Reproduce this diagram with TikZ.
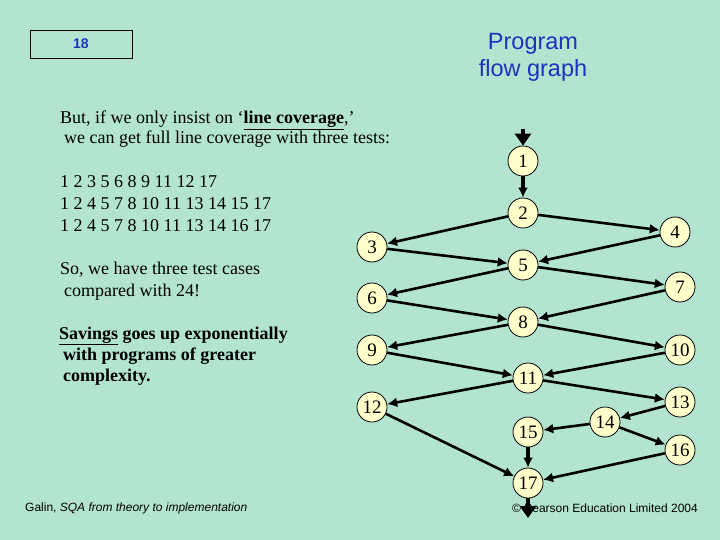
\documentclass[tikz,border=0pt]{standalone}
\usepackage{fontspec}
\setmainfont{Liberation Serif}
\setsansfont{Liberation Sans}
\usetikzlibrary{arrows.meta}
\definecolor{bg}{RGB}{179,228,208}
\definecolor{nodefill}{RGB}{255,255,204}
\definecolor{titleblue}{RGB}{30,50,190}
\begin{document}
\begin{tikzpicture}[x=1pt,y=-1pt,
 vtx/.style={circle,draw=black,line width=0.8pt,fill=nodefill,minimum size=30pt,inner sep=0pt,font=\fontsize{19}{19}\selectfont},
 edge/.style={line width=2.6pt,-{Latex[length=10pt,width=10pt]}},
 bigarrow/.style={line width=4pt,-{Triangle[length=12pt,width=16pt]}},
 txt/.style={anchor=base west,inner sep=0pt,font=\fontsize{18}{18}\selectfont},
 btxt/.style={txt,font=\fontsize{18}{18}\selectfont\bfseries},
 foot/.style={anchor=base west,inner sep=0pt,font=\sffamily\fontsize{12}{12}\selectfont}]

\fill[bg] (0,0) rectangle (720,540);
\useasboundingbox (0,0) rectangle (720,540);

% header
\node[draw=black,line width=0.8pt,minimum width=102pt,minimum height=28pt,
  font=\sffamily\bfseries\fontsize{14}{14}\selectfont,text=titleblue] (slide) at (81,44) {18};
\node[align=center,font=\sffamily\fontsize{23.5}{27}\selectfont,text=titleblue] (title) at (533,57) {Program\\flow graph};

% left texts
\node[txt] (t1) at (60,124) {But, if we only insist on `\textbf{\underline{line coverage}},'};
\node[txt] (t2) at (64,144) {we can get full line coverage with three tests:};
\node[txt] (p1) at (60,188) {1 2 3 5 6 8 9 11 12 17};
\node[txt] (p2) at (60,209.5) {1 2 4 5 7 8 10 11 13 14 15 17};
\node[txt] (p3) at (60,231) {1 2 4 5 7 8 10 11 13 14 16 17};
\node[txt] (s1) at (60,274) {So, we have three test cases};
\node[txt] (s2) at (64,296) {compared with 24!};
\node[btxt] (v1) at (59,339) {\underline{Savings} goes up exponentially};
\node[btxt] (v2) at (63,360) {with programs of greater};
\node[btxt] (v3) at (63,381) {complexity.};

% footer
\node[foot] (f1) at (25,511) {Galin, \textit{SQA from theory to implementation}};
\node[foot] (f2) at (512,512) {\textcopyright\ Pearson Education Limited 2004};

% graph nodes
\node[vtx] (n1) at (523,161) {1};
\node[vtx] (n2) at (523,213) {2};
\node[vtx] (n3) at (372,247) {3};
\node[vtx] (n4) at (675,232) {4};
\node[vtx] (n5) at (523,265) {5};
\node[vtx] (n6) at (372,298) {6};
\node[vtx] (n7) at (680,287) {7};
\node[vtx] (n8) at (523,322) {8};
\node[vtx] (n9) at (372,350) {9};
\node[vtx] (n10) at (680,350) {10};
\node[vtx] (n11) at (528,378) {11};
\node[vtx] (n12) at (372,407) {12};
\node[vtx] (n13) at (680,402) {13};
\node[vtx] (n14) at (605,422) {14};
\node[vtx] (n15) at (528,432) {15};
\node[vtx] (n16) at (680,450) {16};
\node[vtx] (n17) at (528,483) {17};

\coordinate (entry) at (523,129);
\coordinate (exit) at (528,518);

% connectors
\draw[bigarrow] (entry) -- (n1);
\draw[line width=3.5pt,-{Latex[length=10pt,width=10pt]}] (n1) -- (n2);
\draw[edge] (n2) -- (n3);
\draw[edge] (n2) -- (n4);
\draw[edge] (n3) -- (n5);
\draw[edge] (n4) -- (n5);
\draw[edge] (n5) -- (n6);
\draw[edge] (n5) -- (n7);
\draw[edge] (n6) -- (n8);
\draw[edge] (n7) -- (n8);
\draw[edge] (n8) -- (n9);
\draw[edge] (n8) -- (n10);
\draw[edge] (n9) -- (n11);
\draw[edge] (n10) -- (n11);
\draw[edge] (n11) -- (n12);
\draw[edge] (n11) -- (n13);
\draw[edge] (n12) -- (n17);
\draw[edge] (n13) -- (n14);
\draw[edge] (n14) -- (n15);
\draw[edge] (n14) -- (n16);
\draw[line width=3.5pt,-{Latex[length=10pt,width=10pt]}] (n15) -- (n17);
\draw[edge] (n16) -- (n17);
\draw[bigarrow] (n17) -- (exit);
\end{tikzpicture}
\end{document}
